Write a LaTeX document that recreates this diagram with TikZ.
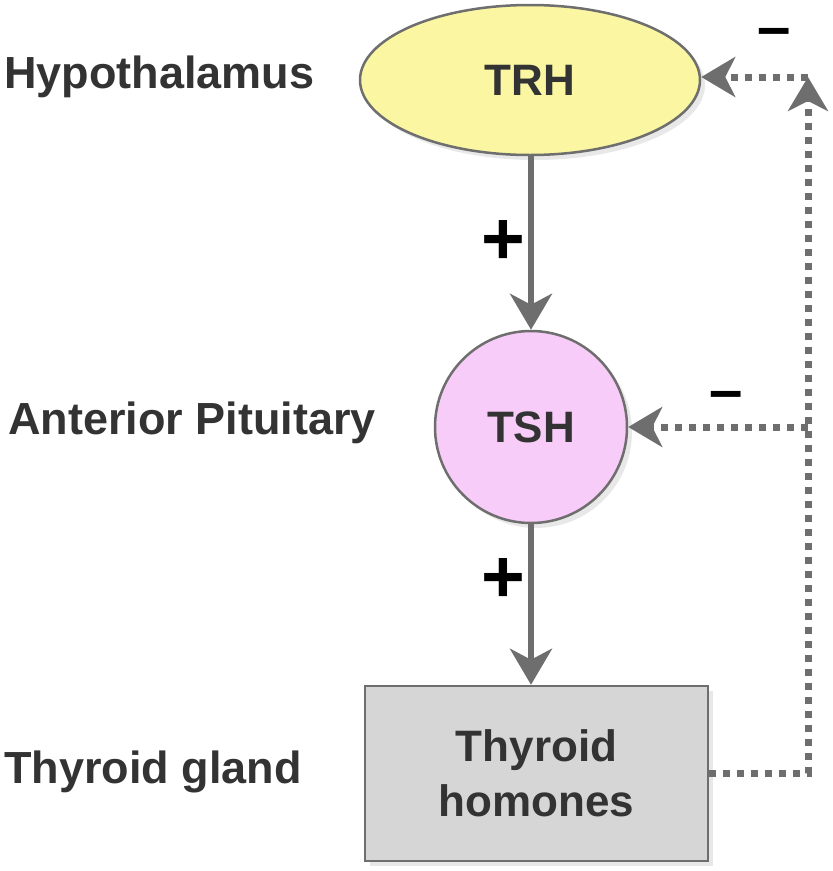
\documentclass[tikz,border=0pt]{standalone}
\usepackage{fontspec}
\setmainfont{Liberation Sans}
\usetikzlibrary{arrows.meta,shapes.geometric,shadows}
\definecolor{txt}{HTML}{333333}
\definecolor{edge}{HTML}{6E6E6E}
\definecolor{yel}{HTML}{FAF6A2}
\definecolor{pink}{HTML}{F8CCF8}
\definecolor{box}{HTML}{D6D6D6}
\begin{document}
\begin{tikzpicture}[x=1pt,y=-1pt,
  lbl/.style={font=\fontsize{45}{52}\selectfont\bfseries, text=txt, anchor=west, inner sep=0pt},
  shp/.style={draw=edge, line width=2.5pt, inner sep=0pt, font=\fontsize{44}{55}\selectfont\bfseries, text=txt,
     drop shadow={opacity=0.18, shadow xshift=5pt, shadow yshift=-5pt}},
  solidarr/.style={draw=edge, line width=6pt, -{Stealth[length=36pt,width=42pt,inset=11pt]}},
  dotline/.style={draw=edge, line width=7pt, dash pattern=on 7pt off 7pt},
  dotarr/.style={dotline, -{Stealth[length=34pt,width=40pt,inset=10pt]}},
  sign/.style={font=\fontsize{75}{80}\selectfont\bfseries, text=black, inner sep=0pt},
  minus/.style={font=\fontsize{60}{60}\selectfont\bfseries, text=black, inner sep=0pt}]
\useasboundingbox (0,0) rectangle (833,871);

% nodes
\node[shp, ellipse, fill=yel, minimum width=340pt, minimum height=150pt] (TRH) at (530,80) {TRH};
\node[shp, circle, fill=pink, minimum size=192pt] (TSH) at (531,427) {TSH};
\node[shp, rectangle, fill=box, minimum width=343pt, minimum height=175pt, align=center] (TH) at (536.5,773.5) {Thyroid\\homones};

% side labels
\node[lbl] (l1) at (4,77) {Hypothalamus};
\node[lbl] (l2) at (8,423) {Anterior Pituitary};
\node[lbl] (l3) at (4,772) {Thyroid gland};

% stimulatory arrows
\draw[solidarr] (TSH.north |- TRH.south) -- (TSH.north);
\draw[solidarr] (TSH.south) -- (TSH.south |- TH.north);
\node[sign] (p1) at (503,243) {+};
\node[sign] (p2) at (503,580) {+};

% feedback
\coordinate (c1) at (808,773.5);
\coordinate (c2) at (808,77);
\coordinate (c3) at (808,427);
\draw[dotarr] (TH.east) -- (c1) -- (c2);
\draw[dotarr] (c2) -- (TRH.east |- c2);
\draw[dotarr] (c3) -- (TSH.east);
\node[minus] (m1) at (774,38) {–};
\node[minus] (m2) at (726,401) {–};
\end{tikzpicture}
\end{document}
